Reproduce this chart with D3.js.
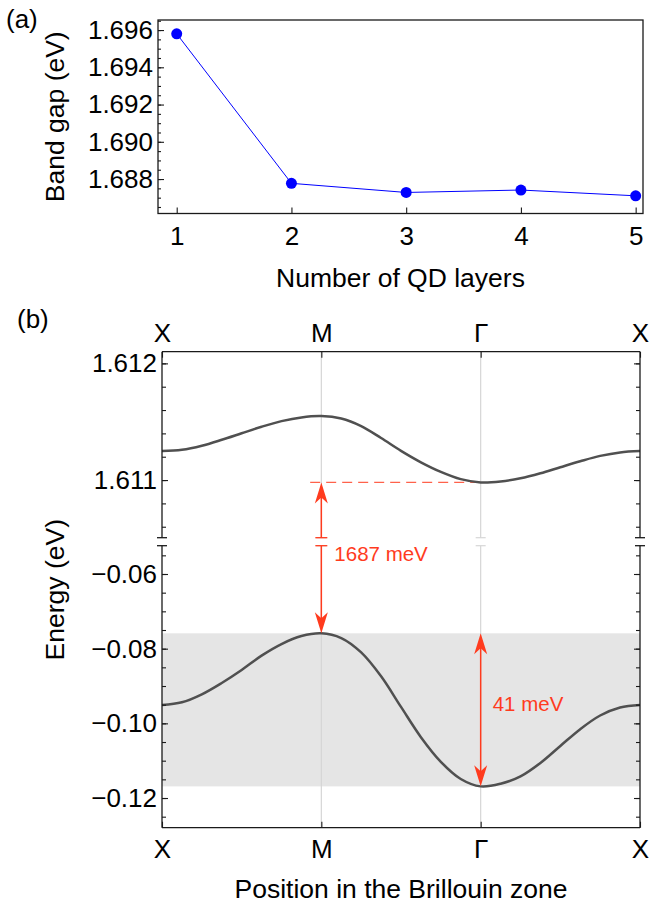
<!DOCTYPE html>
<html>
<head>
<meta charset="utf-8">
<script src="https://cdn.jsdelivr.net/npm/d3@7"></script>
<style>
  body { margin: 0; background: #fff; }
  svg { display: block; font-family: "Liberation Sans", Arial, Helvetica, sans-serif; }
</style>
</head>
<body>
<div id="chart"></div>
<script>
// (a) band gap vs number of QD layers
const layers = [1, 2, 3, 4, 5];
const bandGap = [1.6958, 1.68777, 1.68728, 1.68741, 1.68710];
const gapTicks = [1.688, 1.690, 1.692, 1.694, 1.696];

// (b) band structure along X - M - Γ - X
const symLabels = ["X", "M", "Γ", "X"];
const symPos = [0, 1, 2, 3];
const kPath = [0, 0.125, 0.25, 0.375, 0.5, 0.625, 0.75, 0.875,
               1, 1.125, 1.25, 1.375, 1.5, 1.625, 1.75, 1.875,
               2, 2.125, 2.25, 2.375, 2.5, 2.625, 2.75, 2.875, 3];
const conduction = [1.611248, 1.611259, 1.611294, 1.611345, 1.611401, 1.611457, 1.611505, 1.611537,
                    1.611548, 1.611527, 1.611462, 1.611360, 1.611250, 1.611152, 1.611070, 1.611008,
                    1.610980, 1.610988, 1.611015, 1.611058, 1.611110, 1.611161, 1.611207, 1.611237, 1.611248];
const valence = [-0.09509, -0.09437, -0.09222, -0.08918, -0.08570, -0.08186, -0.07876, -0.07662,
                 -0.07589, -0.07715, -0.08100, -0.08740, -0.09560, -0.10370, -0.11030, -0.11490,
                 -0.11688, -0.11618, -0.11420, -0.11060, -0.10605, -0.10155, -0.09790, -0.09575, -0.09509];
const upperTicks = [1.611, 1.612];
const lowerTicks = [-0.06, -0.08, -0.10, -0.12];
const gapText = "1687 meV";
const widthText = "41 meV";

const W = 649, H = 904;
const FONT = 26;
const TITLE = 26.5;
const INK = "#1a1a1a";
const RED = "#ff3b1e";

const svg = d3.select("#chart").append("svg")
    .attr("width", W)
    .attr("height", H);

function styleAxis(g) {
    g.attr("font-size", FONT).attr("font-family", null).attr("color", INK);
    g.select(".domain").remove();
    g.selectAll(".tick line").attr("stroke-width", 1.1);
    g.selectAll(".tick text").attr("fill", "#000");
    return g;
}

// ---------- panel (a) ----------
const A = { left: 158, right: 643, top: 20, bottom: 213.5 };
const xA = d3.scaleLinear().domain([0.837, 5.064]).range([A.left, A.right]);
const yA = d3.scaleLinear().domain([1.68615, 1.69654]).range([A.bottom, A.top]);

svg.append("g").attr("transform", `translate(${A.left},0)`)
    .call(d3.axisLeft(yA).tickValues(d3.range(1.6865, 1.6966, 0.0005))
        .tickSizeInner(-3).tickSizeOuter(0).tickFormat(""))
    .call(styleAxis);
svg.append("g").attr("transform", `translate(${A.left},0)`)
    .call(d3.axisLeft(yA).tickValues(gapTicks)
        .tickSizeInner(-6).tickSizeOuter(0).tickPadding(5).tickFormat(d3.format(".3f")))
    .call(styleAxis);
svg.append("g").attr("transform", `translate(0,${A.bottom})`)
    .call(d3.axisBottom(xA).tickValues(layers)
        .tickSizeInner(-6).tickSizeOuter(0).tickPadding(13).tickFormat(d3.format("d")))
    .call(styleAxis);

const lineA = d3.line().x((d, i) => xA(layers[i])).y(d => yA(d));
svg.append("path")
    .datum(bandGap)
    .attr("d", lineA)
    .attr("fill", "none")
    .attr("stroke", "#0000ff")
    .attr("stroke-width", 1);
svg.append("g").selectAll("circle")
    .data(bandGap)
    .join("circle")
    .attr("cx", (d, i) => xA(layers[i]))
    .attr("cy", d => yA(d))
    .attr("r", 5.5)
    .attr("fill", "#0000ff");

svg.append("rect")
    .attr("x", A.left).attr("y", A.top)
    .attr("width", A.right - A.left).attr("height", A.bottom - A.top)
    .attr("fill", "none").attr("stroke", INK).attr("stroke-width", 1.3);

svg.append("text").attr("x", 6).attr("y", 28).attr("font-size", FONT).text("(a)");
svg.append("text")
    .attr("transform", `translate(64,${(A.top + A.bottom) / 2}) rotate(-90)`)
    .attr("text-anchor", "middle").attr("font-size", TITLE)
    .text("Band gap (eV)");
svg.append("text")
    .attr("x", (A.left + A.right) / 2).attr("y", 287)
    .attr("text-anchor", "middle").attr("font-size", TITLE)
    .text("Number of QD layers");

// ---------- panel (b) ----------
const B = { left: 162, right: 640, top: 351.7, bottom: 827.7, breakTop: 537.7, breakBot: 545.7 };
const xB = d3.scaleLinear().domain([0, 3]).range([B.left, B.right]);
const yU = d3.scaleLinear().domain([1.610506, 1.6121]).range([B.breakTop, B.top]);
const yL = d3.scaleLinear().domain([-0.12795, -0.05242]).range([B.bottom, B.breakBot]);

const vMax = d3.max(valence), vMin = d3.min(valence), cMin = d3.min(conduction);

// shaded valence band width
svg.append("rect")
    .attr("x", B.left).attr("y", yL(vMax))
    .attr("width", B.right - B.left).attr("height", yL(vMin) - yL(vMax))
    .attr("fill", "#e5e5e5");

// grid lines at M and Γ (broken like the axis)
const gridG = svg.append("g").attr("stroke", "#d6d6d6").attr("stroke-width", 1.2);
[1, 2].forEach(k => {
    const x = xB(k);
    gridG.append("line").attr("x1", x).attr("x2", x).attr("y1", B.top).attr("y2", B.breakTop);
    gridG.append("line").attr("x1", x).attr("x2", x).attr("y1", B.breakBot).attr("y2", B.bottom);
    [B.breakTop, B.breakBot].forEach(y => {
        gridG.append("line").attr("x1", x - 5).attr("x2", x + 5).attr("y1", y).attr("y2", y);
    });
});

// dashed guide at conduction band minimum
svg.append("line")
    .attr("x1", xB(0.93)).attr("x2", xB(2))
    .attr("y1", yU(cMin)).attr("y2", yU(cMin))
    .attr("stroke", RED).attr("stroke-opacity", 0.8)
    .attr("stroke-width", 1.2).attr("stroke-dasharray", "10,6");

// bands
const bandColor = "#505050";
const bandCurve = d3.curveCatmullRom.alpha(0.5);
svg.append("path")
    .datum(conduction)
    .attr("d", d3.line().x((d, i) => xB(kPath[i])).y(d => yU(d)).curve(bandCurve))
    .attr("fill", "none").attr("stroke", bandColor).attr("stroke-width", 2.5);
svg.append("path")
    .datum(valence)
    .attr("d", d3.line().x((d, i) => xB(kPath[i])).y(d => yL(d)).curve(bandCurve))
    .attr("fill", "none").attr("stroke", bandColor).attr("stroke-width", 2.5);

// red arrows
const redG = svg.append("g");
function arrowHead(x, yTip, dir) {
    // dir = 1: pointing up, dir = -1: pointing down
    redG.append("path")
        .attr("d", `M${x},${yTip} L${x - 6.5},${yTip + dir * 21} L${x},${yTip + dir * 15} L${x + 6.5},${yTip + dir * 21} Z`)
        .attr("fill", RED);
}
function redLine(x, y1, y2) {
    redG.append("line").attr("x1", x).attr("x2", x).attr("y1", y1).attr("y2", y2)
        .attr("stroke", RED).attr("stroke-width", 1.5);
}
const xM = xB(1), xG = xB(2);
redLine(xM, yU(cMin) + 10, B.breakTop);
redLine(xM, B.breakBot, yL(vMax) - 10);
[B.breakTop, B.breakBot].forEach(y => {
    redG.append("line").attr("x1", xM - 6).attr("x2", xM + 6).attr("y1", y).attr("y2", y)
        .attr("stroke", RED).attr("stroke-width", 1.3);
});
arrowHead(xM, yU(cMin), 1);
arrowHead(xM, yL(vMax), -1);
redLine(xG, yL(vMax) + 10, yL(vMin) - 10);
arrowHead(xG, yL(vMax), 1);
arrowHead(xG, yL(vMin), -1);

redG.append("text").attr("x", xM + 13).attr("y", B.breakBot + 15)
    .attr("font-size", 20.5).attr("fill", RED).text(gapText);
redG.append("text").attr("x", xG + 12).attr("y", yL((vMax + vMin) / 2) + 1)
    .attr("font-size", 20.5).attr("fill", RED).text(widthText);

// axes: ticks on all four sides
function yTicks(scale, major, minor, fmt) {
    svg.append("g").attr("transform", `translate(${B.left},0)`)
        .call(d3.axisLeft(scale).tickValues(minor).tickSizeInner(-4).tickSizeOuter(0).tickFormat(""))
        .call(styleAxis);
    svg.append("g").attr("transform", `translate(${B.left},0)`)
        .call(d3.axisLeft(scale).tickValues(major).tickSizeInner(-6).tickSizeOuter(0).tickPadding(5).tickFormat(fmt))
        .call(styleAxis);
    svg.append("g").attr("transform", `translate(${B.right},0)`)
        .call(d3.axisRight(scale).tickValues(minor).tickSizeInner(-4).tickSizeOuter(0).tickFormat(""))
        .call(styleAxis);
    svg.append("g").attr("transform", `translate(${B.right},0)`)
        .call(d3.axisRight(scale).tickValues(major).tickSizeInner(-6).tickSizeOuter(0).tickFormat(""))
        .call(styleAxis);
}
yTicks(yU, upperTicks, d3.range(1.6106, 1.61211, 0.0002), d3.format(".3f"));
yTicks(yL, lowerTicks, d3.range(-0.125, -0.0524, 0.005), d3.format(".2f"));

svg.append("g").attr("transform", `translate(0,${B.top})`)
    .call(d3.axisTop(xB).tickValues(symPos).tickSizeInner(-6).tickSizeOuter(0).tickPadding(10)
        .tickFormat(d => symLabels[d]))
    .call(styleAxis);
svg.append("g").attr("transform", `translate(0,${B.bottom})`)
    .call(d3.axisBottom(xB).tickValues(symPos).tickSizeInner(-6).tickSizeOuter(0).tickPadding(12)
        .tickFormat(d => symLabels[d]))
    .call(styleAxis);

// broken frame
const frameG = svg.append("g").attr("stroke", INK).attr("stroke-width", 1.3);
frameG.append("line").attr("x1", B.left).attr("x2", B.right).attr("y1", B.top).attr("y2", B.top);
frameG.append("line").attr("x1", B.left).attr("x2", B.right).attr("y1", B.bottom).attr("y2", B.bottom);
[B.left, B.right].forEach(x => {
    frameG.append("line").attr("x1", x).attr("x2", x).attr("y1", B.top).attr("y2", B.breakTop);
    frameG.append("line").attr("x1", x).attr("x2", x).attr("y1", B.breakBot).attr("y2", B.bottom);
    [B.breakTop, B.breakBot].forEach(y => {
        frameG.append("line").attr("x1", x - 5).attr("x2", x + 5).attr("y1", y).attr("y2", y);
    });
});

svg.append("text").attr("x", 17).attr("y", 328).attr("font-size", FONT).text("(b)");
svg.append("text")
    .attr("transform", `translate(64,${(B.top + B.bottom) / 2}) rotate(-90)`)
    .attr("text-anchor", "middle").attr("font-size", TITLE)
    .text("Energy (eV)");
svg.append("text")
    .attr("x", (B.left + B.right) / 2).attr("y", 898)
    .attr("text-anchor", "middle").attr("font-size", TITLE)
    .text("Position in the Brillouin zone");
</script>
</body>
</html>
